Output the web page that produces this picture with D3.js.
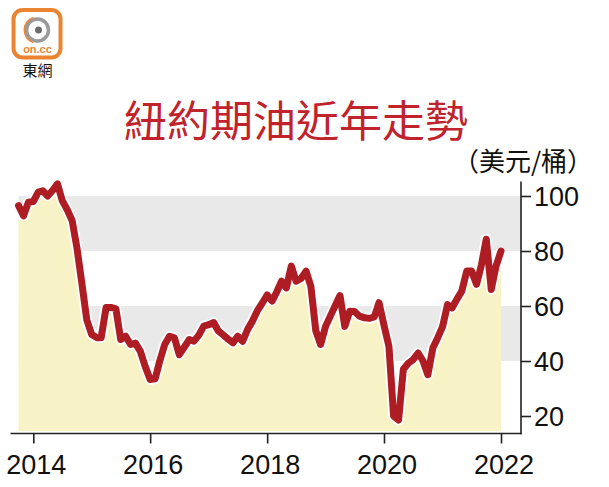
<!DOCTYPE html>
<html>
<head>
<meta charset="utf-8">
<script src="https://cdn.jsdelivr.net/npm/d3@7"></script>
<style>
  body { margin: 0; background: #fff; }
  svg { display: block; }
  .tickLabel { font-family: "Liberation Sans", Arial, sans-serif; font-size: 27px; fill: #111; }
</style>
</head>
<body>
<div id="chart"></div>
<script>
// monthly closes, Oct 2013 -> Jan 2022
var startMonth = [2013, 9]; // year, month index (0 = Jan)
var prices = [
  96.5, 92.8, 97.7,                                                   // 2013 Oct-Dec
  98.0, 101.4, 101.9, 100.0, 102.0, 104.4, 98.3, 95.0, 91.0, 81.0, 68.0, 55.0, // 2014
  49.6, 48.5, 48.5, 59.5, 59.5, 59.0, 47.8, 49.0, 46.0, 46.5, 43.5, 38.0,       // 2015
  33.3, 33.5, 40.0, 46.0, 49.0, 48.4, 42.3, 45.0, 47.8, 47.2, 49.5, 52.7,       // 2016
  53.2, 54.0, 51.0, 49.5, 48.0, 46.6, 49.0, 47.2, 51.5, 54.5, 58.3, 61.0,       // 2017
  64.0, 61.8, 65.0, 69.0, 66.6, 74.5, 69.0, 70.0, 72.7, 67.2, 51.0, 46.0,       // 2018
  52.6, 56.5, 60.0, 63.8, 52.6, 58.1, 58.0, 56.3, 55.7, 55.5, 56.0, 61.2,       // 2019
  53.0, 45.3, 20.0, 18.5, 37.0, 39.2, 40.5, 42.9, 40.0, 35.0, 44.7, 48.4,       // 2020
  52.5, 60.5, 59.3, 62.5, 65.4, 72.7, 72.7, 67.9, 75.0, 84.3, 66.0, 74.5,       // 2021
  80.0                                                                // 2022 Jan
];
var yearTicks = [2014, 2016, 2018, 2020, 2022];
var valueTicks = [20, 40, 60, 80, 100];
var bands = [[80, 100], [40, 60]];

var title = '紐約期油近年走勢';
var unitLabel = '（美元/桶）';

var data = prices.map(function(v, i) {
  return { date: new Date(startMonth[0], startMonth[1] + i, 1), value: v };
});

var width = 609, height = 487;

var svg = d3.select('#chart').append('svg')
  .attr('width', width)
  .attr('height', height);

// scales
var x = d3.scaleTime()
  .domain([new Date(2014, 0, 1), new Date(2022, 0, 1)])
  .range([33.3, 501]);
var y = d3.scaleLinear()
  .domain([20, 100])
  .range([416, 196]);

var axisX = 521, axisY = 433.5;
var plotLeft = x(data[0].date);

// grey bands behind everything
svg.selectAll('.band').data(bands).enter().append('rect')
  .attr('class', 'band')
  .attr('x', plotLeft)
  .attr('width', axisX - plotLeft)
  .attr('y', function(d) { return y(d[1]); })
  .attr('height', function(d) { return y(d[0]) - y(d[1]); })
  .attr('fill', '#e9e9e9');

// yellow area under the line
var area = d3.area()
  .x(function(d) { return x(d.date); })
  .y0(axisY - 2.5)
  .y1(function(d) { return y(d.value); });

svg.append('path').datum(data)
  .attr('d', area)
  .attr('fill', '#f8f3c6');

// line with white halo
var valueLine = d3.line()
  .x(function(d) { return x(d.date); })
  .y(function(d) { return y(d.value); });

svg.append('path').datum(data)
  .attr('d', valueLine)
  .attr('fill', 'none')
  .attr('stroke', '#fff')
  .attr('stroke-width', 10.5)
  .attr('stroke-linejoin', 'round');

svg.append('path').datum(data)
  .attr('d', valueLine)
  .attr('fill', 'none')
  .attr('stroke', '#ae1c24')
  .attr('stroke-width', 7)
  .attr('stroke-linejoin', 'round')
  .attr('stroke-linecap', 'round');

// x axis
var gx = svg.append('g')
  .attr('transform', 'translate(0,' + axisY + ')')
  .call(d3.axisBottom(x)
    .tickValues(yearTicks.map(function(yr) { return new Date(yr, 0, 1); }))
    .tickSize(10)
    .tickSizeOuter(0)
    .tickFormat(d3.timeFormat('%Y')));
gx.select('.domain').attr('d', 'M10.5,0H' + (axisX + 1));
gx.selectAll('line').attr('stroke', '#222').attr('stroke-width', 1.6);
gx.select('.domain').attr('stroke', '#222').attr('stroke-width', 1.6);
gx.selectAll('text')
  .attr('class', 'tickLabel')
  .attr('y', 40)
  .attr('dy', 0)
  .attr('dx', 2.5)
  .attr('font-size', null)
  .attr('font-family', null);

// y axis on the right
var gy = svg.append('g')
  .attr('transform', 'translate(' + axisX + ',0)')
  .call(d3.axisRight(y)
    .tickValues(valueTicks)
    .tickSize(10)
    .tickSizeOuter(0));
gy.select('.domain').attr('d', 'M0,181.5V' + (axisY + 0.8))
  .attr('stroke', '#222').attr('stroke-width', 1.6);
gy.selectAll('line').attr('stroke', '#222').attr('stroke-width', 1.6);
gy.selectAll('text')
  .attr('class', 'tickLabel')
  .attr('x', 13)
  .attr('dy', '0.36em')
  .attr('font-size', null)
  .attr('font-family', null);

// title and unit
svg.append('text')
  .attr('x', 296)
  .attr('y', 137)
  .attr('text-anchor', 'middle')
  .attr('font-family', '"Noto Sans CJK TC", "Noto Sans CJK SC", sans-serif')
  .attr('font-size', 43)
  .attr('font-weight', 400)
  .attr('fill', '#c0232b')
  .text(title);

svg.append('text')
  .attr('x', 523)
  .attr('y', 171)
  .attr('text-anchor', 'middle')
  .attr('font-family', '"Noto Sans CJK TC", "Noto Sans CJK SC", sans-serif')
  .attr('font-size', 26)
  .attr('fill', '#111')
  .text(unitLabel);

// on.cc logo
var logo = svg.append('g');
logo.append('rect')
  .attr('x', 13.5).attr('y', 10)
  .attr('width', 47).attr('height', 47.5)
  .attr('rx', 9)
  .attr('fill', '#fff')
  .attr('stroke', '#eb8432')
  .attr('stroke-width', 4);
logo.append('circle')
  .attr('cx', 37.5).attr('cy', 30).attr('r', 11)
  .attr('fill', 'none')
  .attr('stroke', '#9a9a9a')
  .attr('stroke-width', 3.5);
logo.append('path')
  .attr('d', d3.arc()({ innerRadius: 12.5, outerRadius: 14, startAngle: Math.PI * 1.1, endAngle: Math.PI * 1.9 }))
  .attr('transform', 'translate(37.5,30)')
  .attr('fill', '#eb8432');
logo.append('circle')
  .attr('cx', 38.5).attr('cy', 30).attr('r', 3.5)
  .attr('fill', '#6d6d6d');
logo.append('text')
  .attr('x', 37.5).attr('y', 53)
  .attr('text-anchor', 'middle')
  .attr('font-family', '"Liberation Sans", Arial, sans-serif')
  .attr('font-weight', 'bold')
  .attr('font-size', 11)
  .attr('fill', '#eb8432')
  .text('on.cc');
logo.append('text')
  .attr('x', 37.5).attr('y', 76)
  .attr('text-anchor', 'middle')
  .attr('font-family', '"Noto Sans CJK TC", sans-serif')
  .attr('font-size', 15)
  .attr('fill', '#111')
  .text('東網');
</script>
</body>
</html>
